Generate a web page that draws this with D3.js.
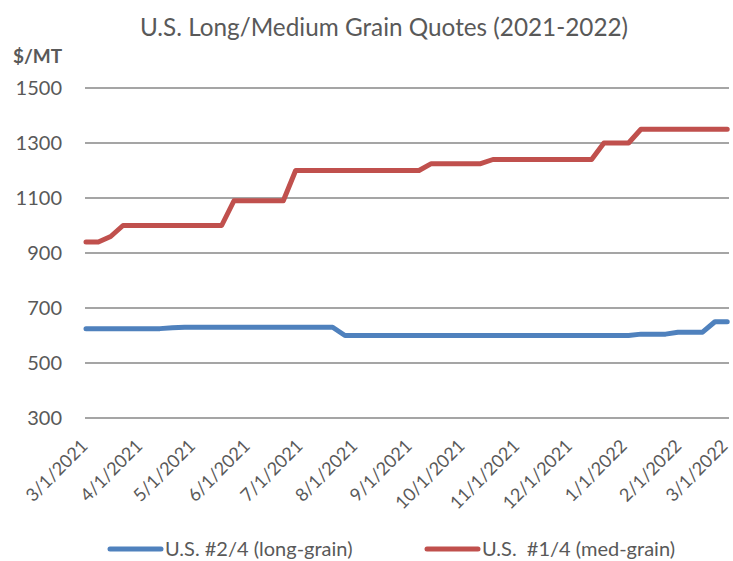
<!DOCTYPE html>
<html>
<head>
<meta charset="utf-8">
<script src="https://cdn.jsdelivr.net/npm/d3@7"></script>
<style>
  body { margin: 0; background: #fff; }
  svg { display: block; font-family: Lato, "Open Sans", sans-serif; }
</style>
</head>
<body>
<svg></svg>
<script>
const width = 733;
const height = 561;

// weekly quote dates (Mondays)
const dates = [
  "2021-03-01", "2021-03-08", "2021-03-15", "2021-03-22", "2021-03-29",
  "2021-04-05", "2021-04-12", "2021-04-19", "2021-04-26",
  "2021-05-03", "2021-05-10", "2021-05-17", "2021-05-24", "2021-05-31",
  "2021-06-07", "2021-06-14", "2021-06-21", "2021-06-28",
  "2021-07-05", "2021-07-12", "2021-07-19", "2021-07-26",
  "2021-08-02", "2021-08-09", "2021-08-16", "2021-08-23", "2021-08-30",
  "2021-09-06", "2021-09-13", "2021-09-20", "2021-09-27",
  "2021-10-04", "2021-10-11", "2021-10-18", "2021-10-25",
  "2021-11-01", "2021-11-08", "2021-11-15", "2021-11-22", "2021-11-29",
  "2021-12-06", "2021-12-13", "2021-12-20", "2021-12-27",
  "2022-01-03", "2022-01-10", "2022-01-17", "2022-01-24", "2022-01-31",
  "2022-02-07", "2022-02-14", "2022-02-21", "2022-02-28"
];

// U.S. #2/4 long-grain, $/MT
const longGrain = [
  625, 625, 625, 625, 625, 625, 625, 628, 630, 630,
  630, 630, 630, 630, 630, 630, 630, 630, 630, 630,
  630, 600, 600, 600, 600, 600, 600, 600, 600, 600,
  600, 600, 600, 600, 600, 600, 600, 600, 600, 600,
  600, 600, 600, 600, 600, 605, 605, 605, 612, 612,
  612, 650, 650
];

// U.S. #1/4 med-grain, $/MT
const medGrain = [
  940, 940, 960, 1000, 1000, 1000, 1000, 1000, 1000, 1000,
  1000, 1000, 1090, 1090, 1090, 1090, 1090, 1200, 1200, 1200,
  1200, 1200, 1200, 1200, 1200, 1200, 1200, 1200, 1225, 1225,
  1225, 1225, 1225, 1240, 1240, 1240, 1240, 1240, 1240, 1240,
  1240, 1240, 1300, 1300, 1300, 1350, 1350, 1350, 1350, 1350,
  1350, 1350, 1350
];

const yTicks = [300, 500, 700, 900, 1100, 1300, 1500];
const xTickLabels = [
  "3/1/2021", "4/1/2021", "5/1/2021", "6/1/2021", "7/1/2021", "8/1/2021",
  "9/1/2021", "10/1/2021", "11/1/2021", "12/1/2021", "1/1/2022", "2/1/2022", "3/1/2022"
];

const seriesNames = ["U.S. #2/4 (long-grain)", "U.S.  #1/4 (med-grain)"];
const seriesColors = ["#4f81bd", "#c0504d"];

const parseDate = d3.timeParse("%Y-%m-%d");
const parseTick = d3.timeParse("%m/%d/%Y");
const textColor = "#595959";

const svg = d3.select("svg")
  .attr("width", width)
  .attr("height", height);

const x = d3.scaleTime()
  .domain([parseTick("3/1/2021"), parseTick("3/1/2022")])
  .range([86, 729]);

const y = d3.scaleLinear()
  .domain([300, 1500])
  .range([418, 88]);

// title
svg.append("text")
  .attr("x", 384)
  .attr("y", 36)
  .attr("text-anchor", "middle")
  .attr("fill", textColor)
  .style("font-size", "24.3px")
  .text("U.S. Long/Medium Grain Quotes (2021-2022)");

// unit label
svg.append("text")
  .attr("x", 13)
  .attr("y", 63)
  .attr("fill", textColor)
  .style("font-size", "19px")
  .style("font-weight", "bold")
  .text("$/MT");

// gridlines
svg.append("g")
  .selectAll("line")
  .data(yTicks)
  .enter()
  .append("line")
  .attr("x1", 85)
  .attr("x2", 729)
  .attr("y1", d => y(d))
  .attr("y2", d => y(d))
  .attr("stroke", "#878787")
  .attr("stroke-width", 1.3);

// y labels
svg.append("g")
  .selectAll("text")
  .data(yTicks)
  .enter()
  .append("text")
  .attr("x", 62)
  .attr("y", d => y(d))
  .attr("dy", "0.35em")
  .attr("text-anchor", "end")
  .attr("fill", textColor)
  .style("font-size", "20px")
  .text(d => d);

// x labels (rotated), last one kept inside the frame
svg.append("g")
  .selectAll("text")
  .data(xTickLabels)
  .enter()
  .append("text")
  .attr("transform", d => `translate(${Math.min(x(parseTick(d)) + 3, 729)},${447}) rotate(-45)`)
  .attr("text-anchor", "end")
  .attr("fill", textColor)
  .style("font-size", "18px")
  .text(d => d);

// lines
const line = d3.line()
  .x(d => x(d.date))
  .y(d => y(d.value));

[longGrain, medGrain].forEach((values, i) => {
  const pts = dates.map((d, j) => ({ date: parseDate(d), value: values[j] }));
  svg.append("path")
    .datum(pts)
    .attr("d", line)
    .attr("fill", "none")
    .attr("stroke", seriesColors[i])
    .attr("stroke-width", 5)
    .attr("stroke-linejoin", "round")
    .attr("stroke-linecap", "round");
});

// legend
const legendX = [108, 425];
const legend = svg.append("g")
  .selectAll("g")
  .data(seriesNames)
  .enter()
  .append("g")
  .attr("transform", (d, i) => `translate(${legendX[i]},549)`);

legend.append("line")
  .attr("x1", 2)
  .attr("x2", 53)
  .attr("stroke", (d, i) => seriesColors[i])
  .attr("stroke-width", 5)
  .attr("stroke-linecap", "round");

legend.append("text")
  .attr("x", 57)
  .attr("dy", "0.35em")
  .attr("fill", textColor)
  .style("font-size", "20px")
  .style("white-space", "pre")
  .text(d => d);
</script>
</body>
</html>
